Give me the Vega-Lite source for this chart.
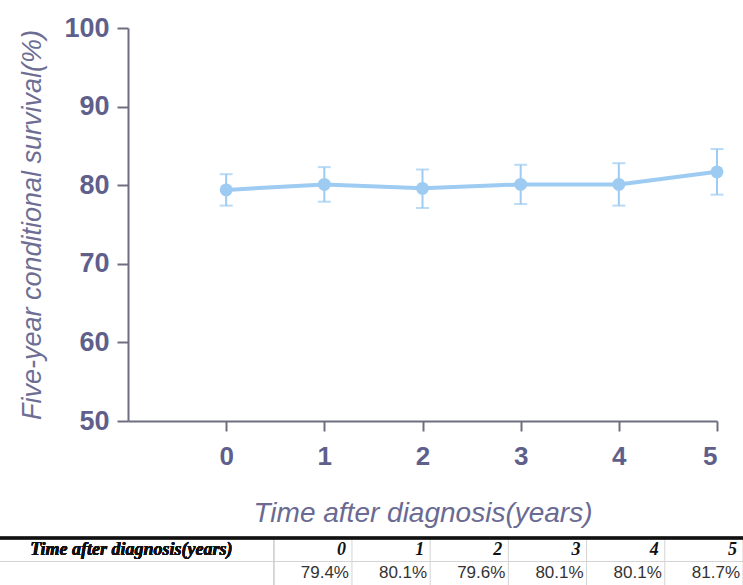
{
  "$schema": "https://vega.github.io/schema/vega-lite/v6.json",
  "width": 589,
  "height": 393,
  "autosize": {"type": "none"},
  "padding": {"left": 128, "top": 28, "right": 26, "bottom": 164},
  "background": "white",
  "config": {
    "view": {"stroke": null},
    "font": "Liberation Sans",
    "axis": {"grid": false},
    "axisX": {
      "domainColor": "#6e6e80", "domainWidth": 2, "tickColor": "#6e6e80", "tickWidth": 2, "tickSize": 10,
      "labelFont": "Liberation Sans", "labelFontSize": 26, "labelFontWeight": "bold", "labelColor": "#5f5f8c", "labelPadding": 12,
      "titleFont": "Liberation Sans", "titleFontSize": 28, "titleFontStyle": "italic", "titleFontWeight": "normal", "titleColor": "#6a6a92", "titlePadding": 30
    },
    "axisY": {
      "domainColor": "#6e6e80", "domainWidth": 2, "tickColor": "#6e6e80", "tickWidth": 2, "tickSize": 11,
      "labelFont": "Liberation Sans", "labelFontSize": 27, "labelFontWeight": "bold", "labelColor": "#5f5f8c", "labelPadding": 8,
      "titleFont": "Liberation Sans", "titleFontSize": 27, "titleFontStyle": "italic", "titleFontWeight": "normal", "titleColor": "#6e6e94", "titlePadding": 17
    }
  },
  "data": {
    "values": [
      {"year": 0, "survival": 79.4, "lower": 77.4, "upper": 81.4},
      {"year": 1, "survival": 80.1, "lower": 77.9, "upper": 82.3},
      {"year": 2, "survival": 79.6, "lower": 77.1, "upper": 82.0},
      {"year": 3, "survival": 80.1, "lower": 77.6, "upper": 82.6},
      {"year": 4, "survival": 80.1, "lower": 77.4, "upper": 82.8},
      {"year": 5, "survival": 81.7, "lower": 78.8, "upper": 84.6}
    ]
  },
  "layer": [
    {
      "encoding": {
        "x": {"field": "year", "type": "quantitative", "scale": {"domain": [-1, 5], "nice": false, "zero": false},
              "axis": {"values": [0, 1, 2, 3, 4, 5], "title": "Time after diagnosis(years)"}}
      },
      "layer": [
        {
          "mark": {"type": "rule", "color": "#9dcbf2", "strokeWidth": 2},
          "encoding": {
            "y": {"field": "lower", "type": "quantitative", "scale": {"domain": [50, 100], "nice": false, "zero": false},
                  "axis": {"values": [50, 60, 70, 80, 90, 100], "title": "Five-year conditional survival(%)"}},
            "y2": {"field": "upper"}
          }
        },
        {
          "mark": {"type": "tick", "orient": "horizontal", "color": "#9dcbf2", "size": 13, "thickness": 2},
          "encoding": {
            "y": {"field": "lower", "type": "quantitative", "scale": {"domain": [50, 100], "nice": false, "zero": false},
                  "axis": {"values": [50, 60, 70, 80, 90, 100], "title": "Five-year conditional survival(%)"}}
          }
        },
        {
          "mark": {"type": "tick", "orient": "horizontal", "color": "#9dcbf2", "size": 13, "thickness": 2},
          "encoding": {
            "y": {"field": "upper", "type": "quantitative", "scale": {"domain": [50, 100], "nice": false, "zero": false},
                  "axis": {"values": [50, 60, 70, 80, 90, 100], "title": "Five-year conditional survival(%)"}}
          }
        },
        {
          "mark": {"type": "line", "color": "#9dcbf2", "strokeWidth": 4},
          "encoding": {
            "y": {"field": "survival", "type": "quantitative", "scale": {"domain": [50, 100], "nice": false, "zero": false},
                  "axis": {"values": [50, 60, 70, 80, 90, 100], "title": "Five-year conditional survival(%)"}}
          }
        },
        {
          "mark": {"type": "point", "filled": true, "color": "#9dcbf2", "opacity": 1, "size": 165},
          "encoding": {
            "y": {"field": "survival", "type": "quantitative", "scale": {"domain": [50, 100], "nice": false, "zero": false},
                  "axis": {"values": [50, 60, 70, 80, 90, 100], "title": "Five-year conditional survival(%)"}}
          }
        }
      ]
    },
    {
      "layer": [
        {
          "mark": {"type": "rule", "color": "#d4d4d4", "strokeWidth": 1},
          "encoding": {
            "x": {"field": "year", "type": "quantitative", "scale": {"domain": [-4.5, 5], "range": [-128, 615], "nice": false, "zero": false}, "axis": null},
            "y": {"datum": 0, "scale": {"domain": [0, 2], "range": [510, 557], "nice": false, "zero": false}, "axis": null},
            "y2": {"datum": 2}
          }
        },
        {
          "mark": {"type": "rule", "color": "#d4d4d4", "strokeWidth": 1},
          "encoding": {
            "x": {"datum": -1, "scale": {"domain": [-4.5, 5], "range": [-128, 615], "nice": false, "zero": false}, "axis": null},
            "y": {"datum": 0, "scale": {"domain": [0, 2], "range": [510, 557], "nice": false, "zero": false}, "axis": null},
            "y2": {"datum": 2}
          }
        },
        {
          "mark": {"type": "rule", "color": "#d4d4d4", "strokeWidth": 1},
          "encoding": {
            "x": {"datum": -4.5, "scale": {"domain": [-4.5, 5], "range": [-128, 615], "nice": false, "zero": false}, "axis": null},
            "x2": {"datum": 5},
            "y": {"datum": 1, "scale": {"domain": [0, 2], "range": [510, 557], "nice": false, "zero": false}, "axis": null}
          }
        },
        {
          "mark": {"type": "rule", "color": "#111111", "strokeWidth": 2.5},
          "encoding": {
            "x": {"datum": -4.5, "scale": {"domain": [-4.5, 5], "range": [-128, 615], "nice": false, "zero": false}, "axis": null},
            "x2": {"datum": 5},
            "y": {"datum": 0, "scale": {"domain": [0, 2], "range": [510, 557], "nice": false, "zero": false}, "axis": null}
          }
        },
        {
          "mark": {"type": "text", "align": "center", "baseline": "middle", "font": "Liberation Serif", "fontSize": 18, "fontWeight": "bold", "fontStyle": "italic", "color": "#111111"},
          "encoding": {
            "x": {"datum": -2.82, "scale": {"domain": [-4.5, 5], "range": [-128, 615], "nice": false, "zero": false}, "axis": null},
            "y": {"datum": 0.5, "scale": {"domain": [0, 2], "range": [510, 557], "nice": false, "zero": false}, "axis": null},
            "text": {"value": "Time after diagnosis(years)"}
          }
        },
        {
          "mark": {"type": "text", "align": "right", "baseline": "middle", "dx": -6, "font": "Liberation Serif", "fontSize": 18, "fontWeight": "bold", "fontStyle": "italic", "color": "#111111"},
          "encoding": {
            "x": {"field": "year", "type": "quantitative", "scale": {"domain": [-4.5, 5], "range": [-128, 615], "nice": false, "zero": false}, "axis": null},
            "y": {"datum": 0.5, "scale": {"domain": [0, 2], "range": [510, 557], "nice": false, "zero": false}, "axis": null},
            "text": {"field": "year", "type": "nominal"}
          }
        },
        {
          "transform": [{"calculate": "format(datum.survival, '.1f') + '%'", "as": "pct"}],
          "mark": {"type": "text", "align": "right", "baseline": "middle", "dx": -3, "font": "Liberation Sans", "fontSize": 17, "color": "#333333"},
          "encoding": {
            "x": {"field": "year", "type": "quantitative", "scale": {"domain": [-4.5, 5], "range": [-128, 615], "nice": false, "zero": false}, "axis": null},
            "y": {"datum": 1.5, "scale": {"domain": [0, 2], "range": [510, 557], "nice": false, "zero": false}, "axis": null},
            "text": {"field": "pct", "type": "nominal"}
          }
        }
      ]
    }
  ],
  "resolve": {"scale": {"x": "independent", "y": "independent"}}
}
